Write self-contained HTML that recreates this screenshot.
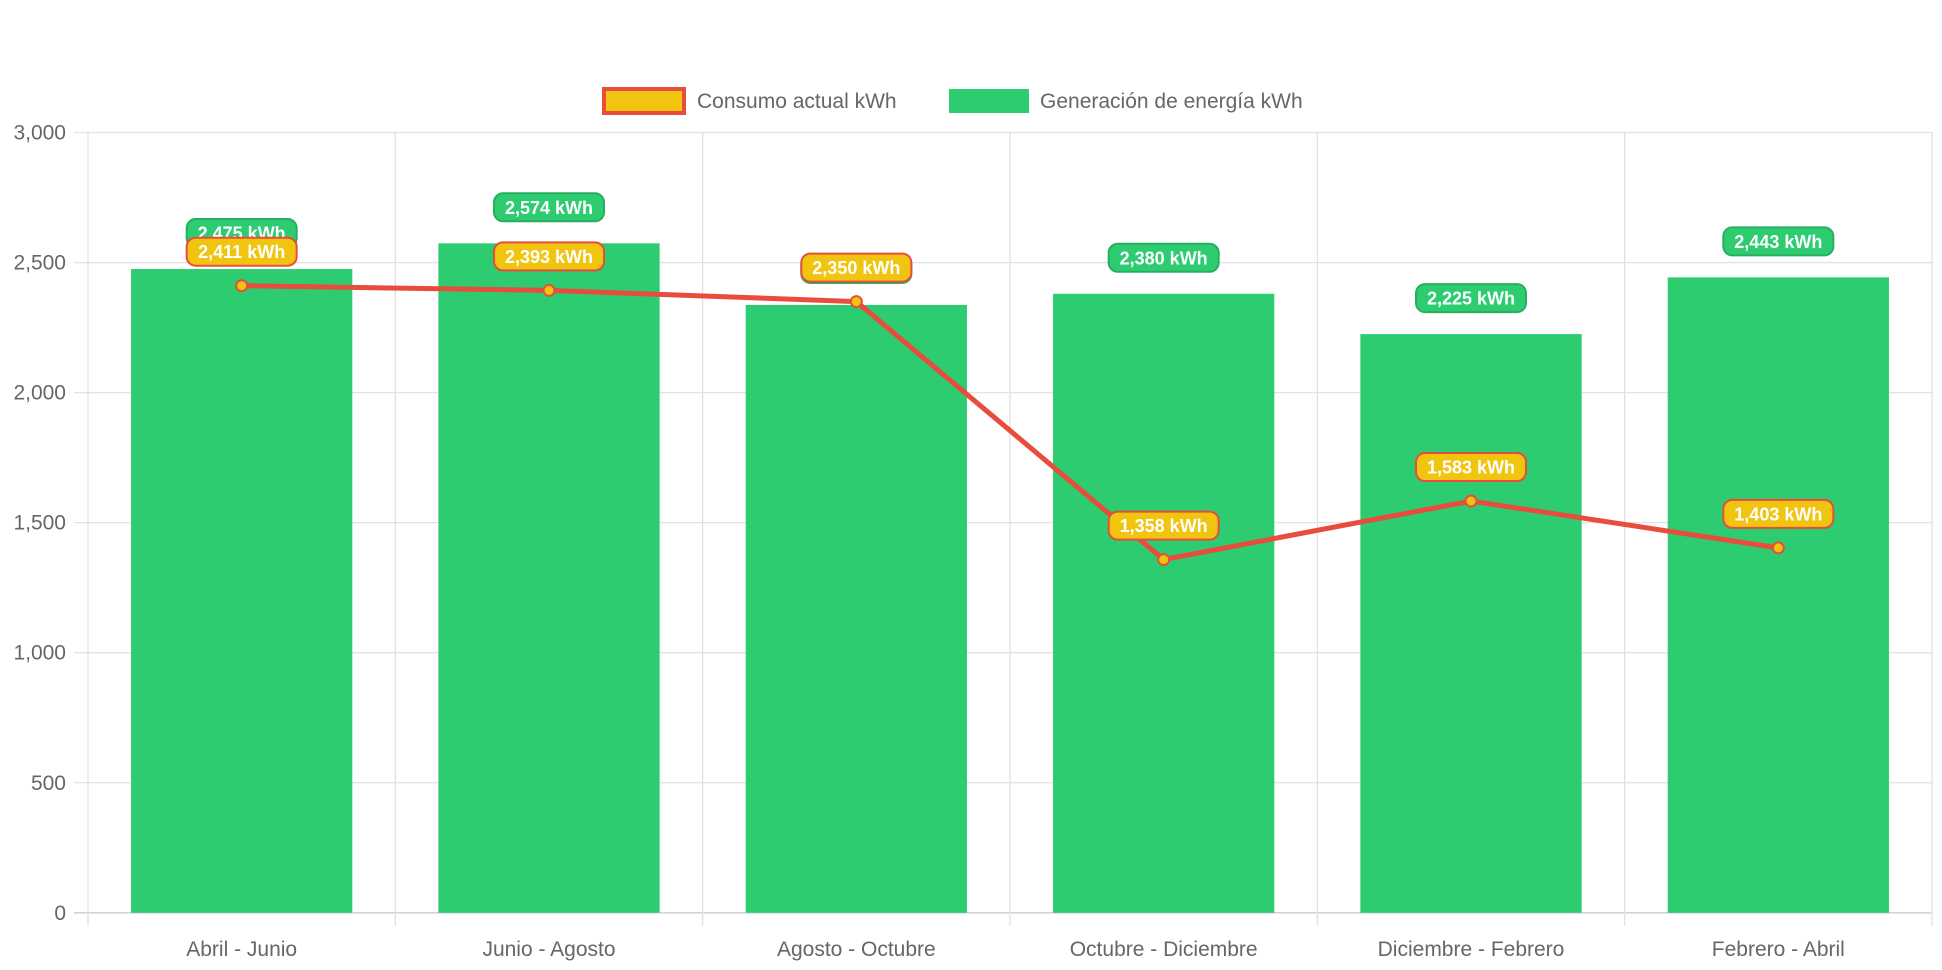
<!DOCTYPE html>
<html><head><meta charset="utf-8"><style>
html,body{margin:0;padding:0;background:#fff;}
svg{display:block;font-family:"Liberation Sans",Arial,sans-serif;}
</style></head><body>
<svg id="chart" width="1942" height="970" xmlns="http://www.w3.org/2000/svg">
<g id="grid"></g>
<g id="bars"></g>
<g id="axes"></g>
<g id="line"></g>
<g id="labels"></g>
<g>
  <g>
    <rect x="604" y="89" width="80" height="24" fill="#f1c40f" stroke="#e74c3c" stroke-width="4"/>
    <text x="697" y="108" font-size="21" fill="#666">Consumo actual kWh</text>
  </g>
  <g>
    <rect x="949" y="89" width="80" height="24" fill="#2ecc71"/>
    <text x="1040" y="108" font-size="21" fill="#666">Generación de energía kWh</text>
  </g>
</g>
</svg>
<script>
const categories = ["Abril - Junio","Junio - Agosto","Agosto - Octubre","Octubre - Diciembre","Diciembre - Febrero","Febrero - Abril"];
const generation = [2475,2574,2337,2380,2225,2443];
const generationLabels = ["2,475 kWh","2,574 kWh","2,337 kWh","2,380 kWh","2,225 kWh","2,443 kWh"];
const consumption = [2411,2393,2350,1358,1583,1403];
const consumptionLabels = ["2,411 kWh","2,393 kWh","2,350 kWh","1,358 kWh","1,583 kWh","1,403 kWh"];
const yTicks = [0,500,1000,1500,2000,2500,3000];
const yTickLabels = ["0","500","1,000","1,500","2,000","2,500","3,000"];

const NS="http://www.w3.org/2000/svg";
const L=88,R=1932,T=132.5,B=912.8,YMAX=3000;
const bw=(R-L)/categories.length;
function y(v){return B-(v/YMAX)*(B-T);}
function xc(i){return L+bw*(i+0.5);}
function mk(tag,attrs,parent){const e=document.createElementNS(NS,tag);for(const k in attrs)e.setAttribute(k,attrs[k]);parent.appendChild(e);return e;}
const grid=document.getElementById('grid'),bars=document.getElementById('bars'),axes=document.getElementById('axes'),line=document.getElementById('line'),labels=document.getElementById('labels');

yTicks.forEach((t,i)=>{
  const g=mk('line',{x1:74,x2:R,y1:y(t),y2:y(t),stroke:i===0?'#ccc':'#e2e2e2','stroke-width':1.3},grid);
  
  
  const tx=mk('text',{x:66,y:y(t)+7,'text-anchor':'end','font-size':21,fill:'#666'},axes);
  tx.textContent=yTickLabels[i];
  
  
});
for(let i=0;i<=categories.length;i++){
  const x=L+bw*i;
  const g=mk('line',{x1:x,x2:x,y1:T,y2:926,stroke:'#e2e2e2','stroke-width':1.3},grid);
  
  
}
categories.forEach((c,i)=>{
  const w=bw*0.72;
  const r=mk('rect',{x:xc(i)-w/2,y:y(generation[i]),width:w,height:B-y(generation[i]),fill:'#2ecc71'},bars);
  
  
  const tx=mk('text',{x:xc(i),y:956,'text-anchor':'middle','font-size':21,fill:'#666'},axes);
  tx.textContent=c;
  
  
});
const pts=consumption.map((v,i)=>xc(i)+','+y(v)).join(' ');
const pl=mk('polyline',{points:pts,fill:'none',stroke:'#e74c3c','stroke-width':5,'stroke-linejoin':'round'},line);


consumption.forEach((v,i)=>{
  const c=mk('circle',{cx:xc(i),cy:y(v),r:5.5,fill:'#f1c40f',stroke:'#e74c3c','stroke-width':2},line);
  
  
});
function badge(cx,cy,text,fill,stroke,name){
  const g=mk('g',{},labels);
  
  
  const w=110,h=28;
  mk('rect',{x:cx-w/2,y:cy-h/2,width:w,height:h,rx:9,fill:fill,stroke:stroke,'stroke-width':2},g);
  const t=mk('text',{x:cx,y:cy+6.5,'text-anchor':'middle','font-size':18,'font-weight':'bold',fill:'#fff'},g);
  t.textContent=text;
}
generation.forEach((v,i)=>badge(xc(i),y(v)-36,generationLabels[i],'#2ecc71','#27ae60','generation-value-label'));
consumption.forEach((v,i)=>badge(xc(i),y(v)-34,consumptionLabels[i],'#f1c40f','#e74c3c','consumption-value-label'));
</script>
</body></html>
